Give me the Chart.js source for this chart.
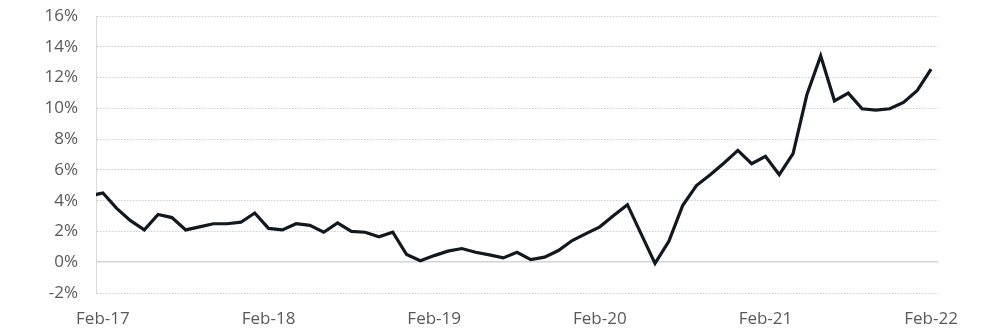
<!DOCTYPE html>
<html>
<head>
<meta charset="utf-8">
<script src="https://cdn.jsdelivr.net/npm/chart.js@4/dist/chart.umd.min.js"></script>
<style>
  body { margin: 0; background: #fff; }
</style>
</head>
<body>
<canvas id="myChart" width="990" height="335"></canvas>
<script>
// monthly values in %, first one is Jan-17 (sits just left of the plot and gets clipped)
const values = [
  4.3,
  4.5, 3.5, 2.7, 2.1, 3.1, 2.9, 2.1, 2.3, 2.5, 2.5, 2.6, 3.2,
  2.2, 2.1, 2.5, 2.4, 1.95, 2.55, 2.0, 1.95, 1.65, 1.95, 0.5, 0.1,
  0.43, 0.72, 0.89, 0.65, 0.48, 0.28, 0.65, 0.17, 0.33, 0.76, 1.41, 1.86,
  2.3, 3.03, 3.74, 1.83, -0.08, 1.36, 3.68, 4.98, 5.69, 6.45, 7.27, 6.4,
  6.88, 5.69, 7.05, 10.88, 13.41, 10.49, 10.99, 9.97, 9.89, 9.97, 10.38, 11.16,
  12.55
];
const firstMonth = -1; // months relative to Feb-17
const tickLabels = ['Feb-17', 'Feb-18', 'Feb-19', 'Feb-20', 'Feb-21', 'Feb-22'];
const tickMonths = [0, 12, 24, 36, 48, 60];
const yTicks = [-2, 0, 2, 4, 6, 8, 10, 12, 14, 16];

const points = values.map((v, i) => ({ x: firstMonth + i, y: v }));
const labelFont = { family: 'Open Sans', size: 17 };

const ctx = document.getElementById('myChart').getContext('2d');
new Chart(ctx, {
  type: 'line',
  data: {
    datasets: [{
      data: points,
      borderColor: '#121820',
      borderWidth: 3.2,
      borderJoinStyle: 'miter',
      pointRadius: 0,
      tension: 0
    }]
  },
  options: {
    responsive: false,
    animation: false,
    layout: { padding: { left: 0, right: 52, top: 16, bottom: 0 } },
    plugins: { legend: { display: false }, tooltip: { enabled: false } },
    scales: {
      x: {
        type: 'linear',
        min: -0.5,
        max: 60.5,
        grid: { display: false, drawTicks: false },
        border: { display: false },
        afterBuildTicks: scale => {
          scale.ticks = tickMonths.map(v => ({ value: v }));
        },
        afterFit: scale => {
          scale.height = 42;
          scale.paddingLeft = 0;
          scale.paddingRight = 0;
        },
        ticks: {
          padding: 16,
          maxRotation: 0,
          autoSkip: false,
          color: '#595959',
          font: labelFont,
          callback: v => tickLabels[tickMonths.indexOf(v)]
        }
      },
      y: {
        min: yTicks[0],
        max: yTicks[yTicks.length - 1],
        afterBuildTicks: scale => {
          scale.ticks = yTicks.map(v => ({ value: v }));
        },
        afterFit: scale => {
          scale.width = 96;
          scale.paddingTop = 0;
          scale.paddingBottom = 0;
        },
        grid: {
          drawTicks: false,
          color: c => (c.tick && c.tick.value === 0) ? '#d4d4d4' : '#cfcfcf',
          lineWidth: c => (c.tick && c.tick.value === 0) ? 1.5 : 1
        },
        border: {
          display: true,
          color: '#d9d9d9',
          width: 1,
          dash: c => (c.tick && c.tick.value !== 0) ? [1.5, 1.5] : []
        },
        ticks: {
          padding: 18,
          color: '#595959',
          font: labelFont,
          callback: v => v + '%'
        }
      }
    }
  }
});
</script>
</body>
</html>
